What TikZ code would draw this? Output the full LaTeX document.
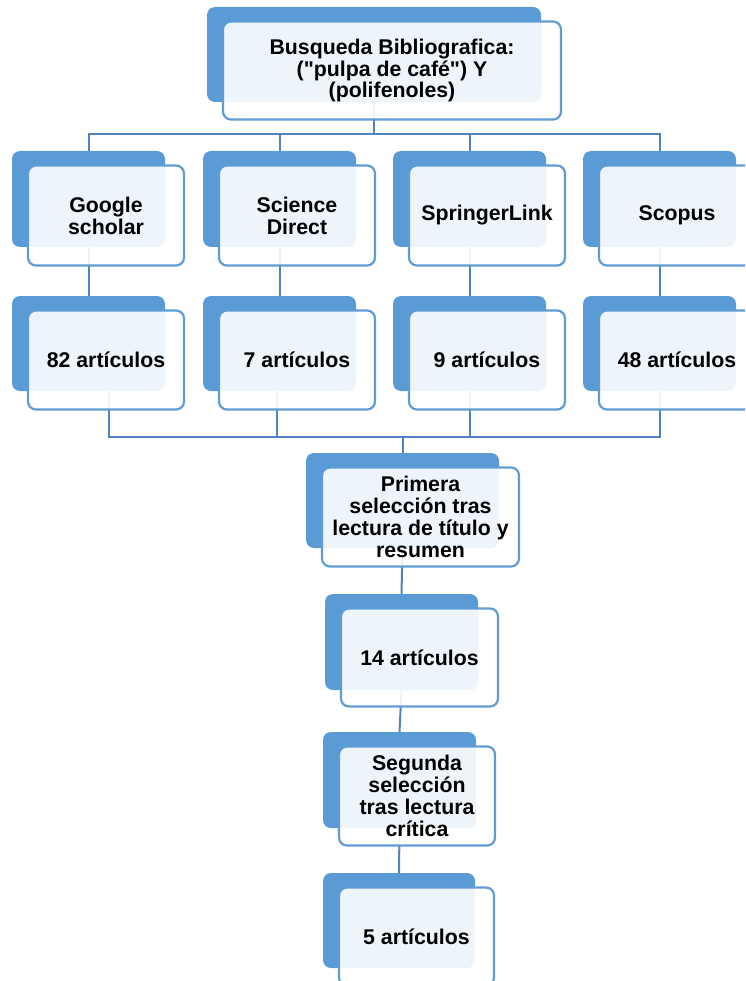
\documentclass[tikz,border=0pt]{standalone}
\usepackage{fontspec}
\setmainfont{Liberation Sans}[Ligatures=TeXOff]
\pgfdeclarelayer{background}
\pgfsetlayers{background,main}
\definecolor{bblue}{RGB}{91,155,213}
\definecolor{fborder}{RGB}{96,156,212}
\definecolor{connc}{RGB}{80,132,192}
\tikzset{
  backbox/.style={fill=bblue, rounded corners=8pt, inner sep=0pt, outer sep=0pt},
  frontbox/.style={draw=fborder, line width=2.2pt, rounded corners=8pt, fill=white, fill opacity=0.9, text opacity=1, inner sep=0pt, outer sep=0pt, align=center, font=\fontsize{21.3}{21.8}\selectfont\bfseries, text=black},
  conn/.style={draw=connc, line width=2pt},
}
\newcommand{\boxpair}[8]{%
  \node[backbox, minimum width=#4, minimum height=#5] (#1-b) at ({#2+#4/2},{#3+#5/2}) {};
  \node[frontbox, minimum width=#6, minimum height=#7] (#1) at ({#2+16+#6/2},{#3+14.5+#7/2}) {#8};
}
\begin{document}
\begin{tikzpicture}[x=1pt,y=-1pt]
\useasboundingbox (0,0) rectangle (745,981);
\clip (0,0) rectangle (745,981);
% top
\boxpair{top}{207}{7}{334}{95}{338}{98}{Busqueda Bibliografica:\\("pulpa de café") Y\\(polifenoles)}
% row 2
\boxpair{gs}{12}{151}{153}{96}{156}{100}{Google\\scholar}
\boxpair{sd}{203}{151}{153}{96}{156}{100}{Science\\Direct}
\boxpair{sl}{393}{151}{153}{96}{156}{100}{SpringerLink}
\boxpair{sc}{583}{151}{153}{96}{156}{100}{Scopus}
% row 3
\boxpair{gsn}{12}{296}{153}{95}{156}{99}{82 artículos}
\boxpair{sdn}{203}{296}{153}{95}{156}{99}{7 artículos}
\boxpair{sln}{393}{296}{153}{95}{156}{99}{9 artículos}
\boxpair{scn}{583}{296}{153}{95}{156}{99}{48 artículos}
% lower chain
\boxpair{pri}{306}{453}{193}{95}{197}{99}{Primera\\selección tras\\lectura de título y\\resumen}
\boxpair{n14}{325}{594}{153}{96}{157}{98}{14 artículos}
\boxpair{seg}{323}{732}{153}{96}{156}{99}{Segunda\\selección\\tras lectura\\crítica}
\boxpair{n5}{323}{873}{152}{95}{155}{98}{5 artículos}
% connectors
\begin{pgfonlayer}{background}
\draw[conn] (top-b.south) -- ++(0,32) coordinate (bus1);
\draw[conn] (gs-b.north) |- (bus1);
\draw[conn] (sd-b.north) |- (bus1);
\draw[conn] (sl-b.north) |- (bus1);
\draw[conn] (sc-b.north) |- (bus1);
\draw[conn] (gs-b.south) -- (gsn-b.north);
\draw[conn] (sd-b.south) -- (sdn-b.north);
\draw[conn] (sl-b.south) -- (sln-b.north);
\draw[conn] (sc-b.south) -- (scn-b.north);
\draw[conn] (pri-b.north) -- ++(0,-16) coordinate (bus2);
\draw[conn] ([xshift=20pt]gsn-b.south) |- (bus2);
\draw[conn] ([xshift=-3pt]sdn-b.south) |- (bus2);
\draw[conn] (sln-b.south) |- (bus2);
\draw[conn] (scn-b.south) |- (bus2);
\draw[conn] (pri-b.south) -- (n14-b.north);
\draw[conn] (n14-b.south) -- (seg-b.north);
\draw[conn] (seg-b.south) -- (n5-b.north);
\end{pgfonlayer}
\end{tikzpicture}
\end{document}
